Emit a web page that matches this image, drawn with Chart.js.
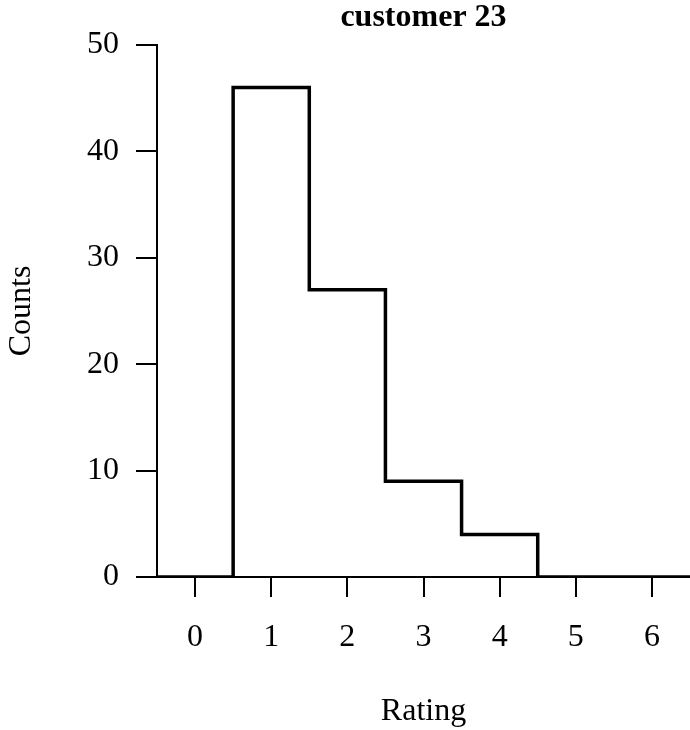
<!DOCTYPE html>
<html>
<head>
<meta charset="utf-8">
<script src="https://cdn.jsdelivr.net/npm/chart.js@4/dist/chart.umd.min.js"></script>
<style>
  body { margin: 0; background: #fff; }
  canvas { display: block; }
</style>
</head>
<body>
<canvas id="ratingChart" width="690" height="730"></canvas>
<script>
const ratings = [0, 1, 2, 3, 4, 5, 6]
const counts = [0, 46, 27, 9, 4, 0, 0]
const yTicks = [0, 10, 20, 30, 40, 50]

// histogram outline: one step per bin, edges half a unit either side of each rating
const outline = ratings.map((r, i) => ({ x: r - 0.5, y: counts[i] }))
outline.push({ x: ratings[ratings.length - 1] + 0.5, y: counts[counts.length - 1] })

const serif = 'Liberation Serif'
const ink = '#000'

const ctx = document.getElementById('ratingChart')
new Chart(ctx, {
    type: 'line',
    data: {
        datasets: [{
            data: outline,
            // hold each bin's count until the next edge, then jump
            stepped: 'before',
            borderColor: ink,
            borderWidth: 3.5,
            borderJoinStyle: 'miter',
            pointRadius: 0,
            fill: false
        }]
    },
    options: {
        responsive: false,
        animation: false,
        layout: { padding: 0 },
        plugins: {
            legend: { display: false },
            tooltip: { enabled: false },
            title: {
                display: true,
                text: 'customer 23',
                color: ink,
                fullSize: false,
                font: { family: serif, size: 32, weight: 'bold', lineHeight: 1 },
                padding: { top: 2, bottom: 11 }
            }
        },
        scales: {
            x: {
                type: 'linear',
                min: ratings[0] - 0.5,
                max: ratings[ratings.length - 1] + 0.5,
                afterFit: (scale) => { scale.height = 153 },
                afterBuildTicks: (scale) => {
                    scale.ticks = ratings.map(v => ({ value: v }))
                },
                border: { display: true, color: ink, width: 2 },
                grid: {
                    drawOnChartArea: false,
                    drawTicks: true,
                    tickLength: 20,
                    color: ink,
                    lineWidth: 2
                },
                ticks: {
                    color: ink,
                    padding: 21,
                    maxRotation: 0,
                    autoSkip: false,
                    font: { family: serif, size: 32 }
                },
                title: {
                    display: true,
                    text: 'Rating',
                    color: ink,
                    font: { family: serif, size: 32, lineHeight: 1 },
                    padding: { top: 0, bottom: 2 }
                }
            },
            y: {
                min: yTicks[0],
                max: yTicks[yTicks.length - 1],
                afterFit: (scale) => { scale.width = 157 },
                afterBuildTicks: (scale) => {
                    scale.ticks = yTicks.map(v => ({ value: v }))
                },
                border: { display: true, color: ink, width: 2 },
                grid: {
                    drawOnChartArea: false,
                    drawTicks: true,
                    tickLength: 21,
                    color: ink,
                    lineWidth: 2
                },
                ticks: {
                    color: ink,
                    padding: 17,
                    font: { family: serif, size: 32 }
                },
                title: {
                    display: true,
                    text: 'Counts',
                    color: ink,
                    font: { family: serif, size: 32, lineHeight: 1 },
                    padding: { top: 6, bottom: 0 }
                }
            }
        }
    }
})
</script>
</body>
</html>
